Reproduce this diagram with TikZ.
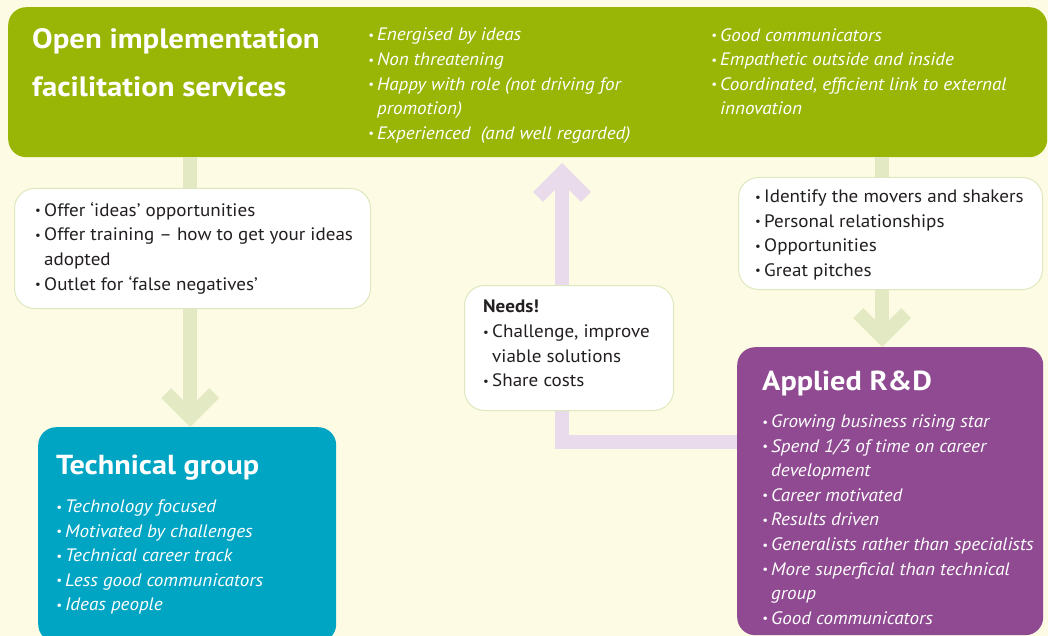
\documentclass[tikz,border=0pt]{standalone}
\usepackage{fontspec}
\setmainfont{PT Sans}[FakeStretch=1.06]
\newfontfamily\headfont{PT Sans}[FakeStretch=1.1]
\usetikzlibrary{arrows.meta}

\definecolor{bgcream}{RGB}{254,251,228}
\definecolor{topgreen}{RGB}{153,181,5}
\definecolor{techblue}{RGB}{0,165,196}
\definecolor{rndpurple}{RGB}{143,74,145}
\definecolor{arrowgreen}{RGB}{227,234,195}
\definecolor{arrowlav}{RGB}{233,219,235}
\definecolor{noteline}{RGB}{222,232,190}
\definecolor{notetext}{RGB}{35,31,32}

\newcommand{\bul}{\makebox[9pt][l]{\raisebox{1.4pt}{\fontsize{12}{12}\selectfont\textbullet}}}
\newcommand{\ind}{\hspace*{9pt}}

\begin{document}
\begin{tikzpicture}[x=1pt,y=-1pt,
  box/.style={rectangle, rounded corners=18pt, inner sep=0pt, anchor=north west},
  notebox/.style={box, fill=white, draw=noteline, line width=1pt, rounded corners=20pt},
  barb/.style={-{Straight Barb[sharp,length=24pt,width=48pt]}},
  greenarrow/.style={barb, draw=arrowgreen, line width=14pt},
  lavarrow/.style={barb, draw=arrowlav, line width=14pt, line join=miter},
  head/.style={inner sep=0pt, anchor=north west, align=left, text=white, font=\headfont\bfseries\fontsize{28}{48}\selectfont},
  ilist/.style={inner sep=0pt, anchor=north west, align=left, text=white, font=\itshape\fontsize{18}{24.6}\selectfont},
  plist/.style={inner sep=0pt, anchor=north west, align=left, text=notetext, font=\fontsize{18}{24.6}\selectfont}
]
\useasboundingbox[fill=bgcream] (0,0) rectangle (1048,636);

% coloured boxes
\node[box, fill=topgreen, minimum width=1039pt, minimum height=150pt] (top) at (8,7) {};
\node[box, fill=techblue, minimum width=298pt, minimum height=215pt] (tech) at (38,427) {};
\node[box, fill=rndpurple, minimum width=306pt, minimum height=288pt] (rnd) at (737,347) {};

% arrows
\coordinate (bend) at (562,442);
\coordinate (uptip) at (562,163);
\draw[greenarrow] ([xshift=3pt]top.south -| tech.north) -- ([xshift=3pt]tech.north);
\draw[greenarrow] ([xshift=-8pt]top.south -| rnd.north) -- ([xshift=-8pt]rnd.north);
\draw[lavarrow] (bend -| rnd.west) -- (bend) -- (uptip);

% white boxes
\node[notebox, minimum width=356pt, minimum height=120pt] (offer) at (14,188) {};
\node[notebox, minimum width=209pt, minimum height=125pt] (needs) at (464,285) {};
\node[notebox, minimum width=304pt, minimum height=112pt] (movers) at (738,177) {};

% texts
\node[head] (tophead) at (32,28) {Open implementation\\facilitation services};
\node[ilist] (toplist) at (368,28) {\bul Energised by ideas\\
  \bul Non threatening\\
  \bul Happy with role (not driving for\\
  \ind promotion)\\
  \bul Experienced\ \ (and well regarded)};
\node[ilist] (toplistb) at (711,28) {\bul Good communicators\\
  \bul Empathetic outside and inside\\
  \bul Coordinated, efficient link to external\\
  \ind innovation};

\node[plist] (offertext) at (35,202) {\bul Offer ‘ideas’ opportunities\\
  \bul Offer training – how to get your ideas\\
  \ind adopted\\
  \bul Outlet for ‘false negatives’};
\node[plist] (needstext) at (483,300) {\textbf{Needs!}\\
  \bul Challenge, improve\\
  \ind viable solutions\\
  \bul Share costs};
\node[plist] (moverstext) at (755,189.5) {\bul Identify the movers and shakers\\
  \bul Personal relationships\\
  \bul Opportunities\\
  \bul Great pitches};

\node[head, font=\headfont\bfseries\fontsize{27.5}{30}\selectfont] (techhead) at (56,455) {Technical group};
\node[ilist] (techlist) at (56,499.5) {\bul Technology focused\\
  \bul Motivated by challenges\\
  \bul Technical career track\\
  \bul Less good communicators\\
  \bul Ideas people};

\node[head, font=\headfont\bfseries\fontsize{27.5}{30}\selectfont] (rndhead) at (762,371) {Applied R\&D};
\node[ilist] (rndlist) at (762,414.5) {\bul Growing business rising star\\
  \bul Spend 1/3 of time on career\\
  \ind development\\
  \bul Career motivated\\
  \bul Results driven\\
  \bul Generalists rather than specialists\\
  \bul More superficial than technical\\
  \ind group\\
  \bul Good communicators};
\end{tikzpicture}
\end{document}
